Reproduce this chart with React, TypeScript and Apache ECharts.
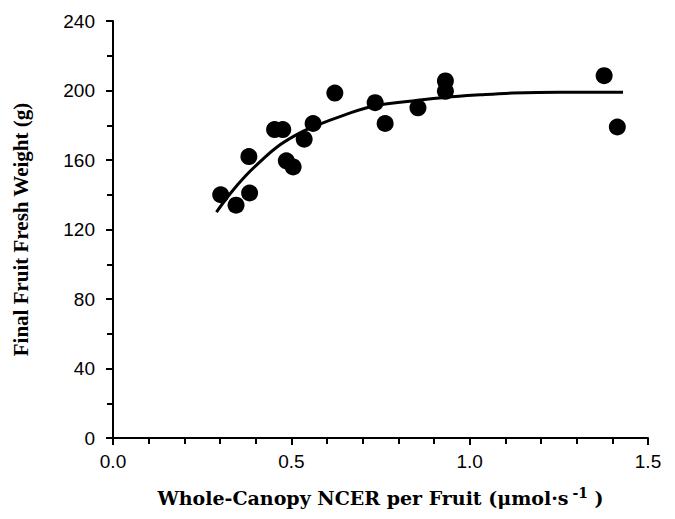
import React, { useEffect, useRef } from "react";
import * as echarts from "echarts";

const ncer = [0.302, 0.345, 0.383, 0.381, 0.453, 0.476, 0.486, 0.505, 0.536, 0.561, 0.622, 0.735, 0.763, 0.855, 0.932, 0.932, 1.377, 1.414];
const weight = [140, 134, 141, 162, 177.5, 177.5, 159.5, 156, 172, 181, 198.5, 193, 181, 190, 205.5, 199.5, 208.5, 179];

const curveX = [0.29, 0.33, 0.37, 0.415, 0.46, 0.51, 0.56, 0.65, 0.74, 0.84, 0.93, 1.03, 1.12, 1.25, 1.43];
const curveY = [130, 141, 150.5, 159.5, 167.5, 174, 179, 186, 191.5, 194, 196, 197.5, 198.5, 199, 199];

const yTicks = [0, 40, 80, 120, 160, 200, 240];

export default function App() {
  const ref = useRef<HTMLDivElement>(null);
  useEffect(() => {
    if (!ref.current) return;
    const chart = echarts.init(ref.current, undefined, { renderer: "svg" });
    const axisCommon = {
      axisLine: { show: true, onZero: false, lineStyle: { color: "#000", width: 2 } },
      axisTick: { show: true, length: 7, lineStyle: { color: "#000", width: 2 } },
      minorTick: { show: true, length: 6, lineStyle: { color: "#000", width: 2 } },
      splitLine: { show: false },
      minorSplitLine: { show: false },
      axisLabel: { color: "#000", fontFamily: "Liberation Sans", fontSize: 19 },
    };
    chart.setOption({
      animation: false,
      backgroundColor: "#fff",
      grid: { left: 113, right: 27, top: 21, bottom: 81 },
      xAxis: {
        ...axisCommon,
        type: "value",
        min: 0,
        max: 1.5,
        interval: 0.5,
        minorTick: { ...axisCommon.minorTick, splitNumber: 5 },
        axisLabel: { ...axisCommon.axisLabel, margin: 14, formatter: (v: number) => v.toFixed(1) },
        name: "{a|Whole-Canopy NCER per Fruit (μmol·s}{sup|-1}{a| )}",
        nameLocation: "middle",
        nameGap: 48,
        nameTextStyle: {
          rich: {
            a: { fontFamily: "DejaVu Serif", fontWeight: "bold", fontSize: 19, color: "#000" },
            sup: { fontFamily: "DejaVu Serif", fontWeight: "bold", fontSize: 14, color: "#000", padding: [0, 0, 10, 4] },
          },
        },
      },
      yAxis: {
        ...axisCommon,
        type: "value",
        min: yTicks[0],
        max: yTicks[yTicks.length - 1],
        interval: 40,
        minorTick: { ...axisCommon.minorTick, splitNumber: 2 },
        axisLabel: { ...axisCommon.axisLabel, margin: 18 },
        name: "Final Fruit Fresh Weight (g)",
        nameLocation: "middle",
        nameGap: 82,
        nameTextStyle: { color: "#000", fontFamily: "Liberation Serif", fontWeight: "bold", fontSize: 21 },
      },
      series: [
        {
          type: "line",
          data: curveX.map((x, i) => [x, curveY[i]]),
          smooth: 0.4,
          showSymbol: false,
          symbol: "none",
          lineStyle: { color: "#000", width: 3 },
          z: 2,
        },
        {
          type: "scatter",
          data: ncer.map((x, i) => [x, weight[i]]),
          symbol: "circle",
          symbolSize: 17,
          itemStyle: { color: "#000", opacity: 1 },
          z: 3,
        },
      ],
    });
    return () => chart.dispose();
  }, []);
  return <div ref={ref} style={{ width: 675, height: 519, position: "absolute", left: 0, top: 0 }} />;
}
